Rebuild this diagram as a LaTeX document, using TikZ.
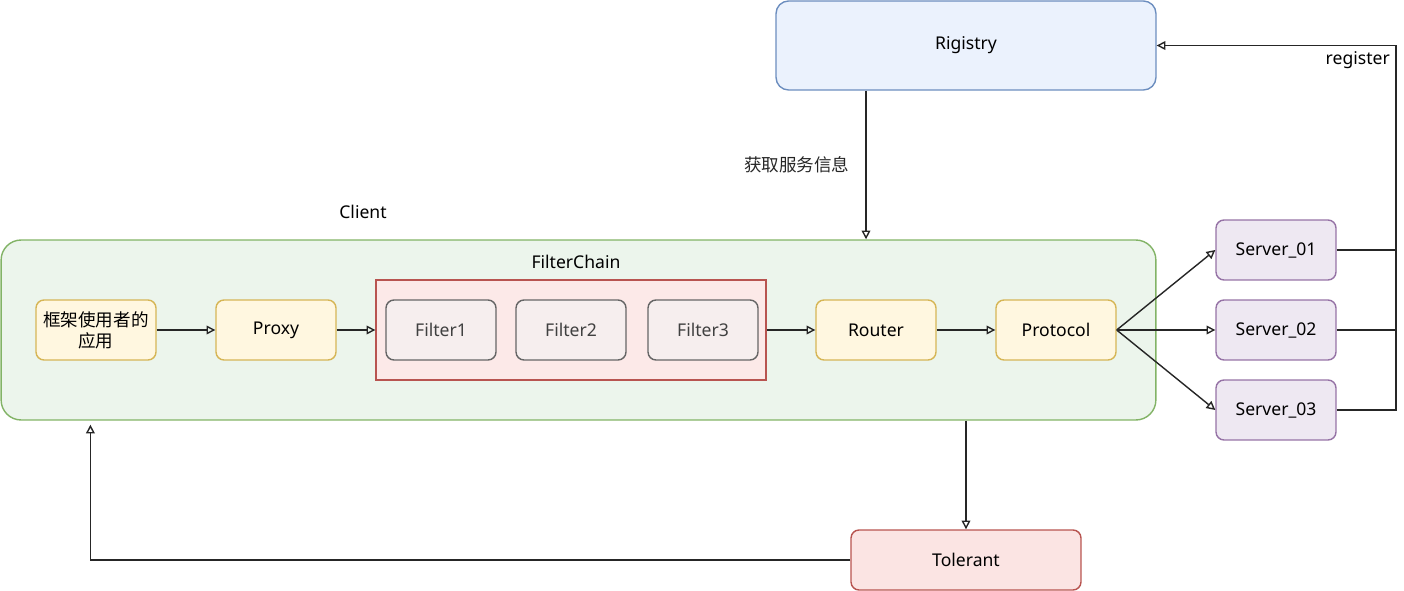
\documentclass[tikz,border=0pt]{standalone}
\usepackage{fontspec}
\setmainfont{Noto Sans}
\newfontfamily\cjk{Noto Sans CJK SC}
\usepackage{tikz}
\usetikzlibrary{arrows.meta}
\definecolor{ystroke}{HTML}{D6B656}
\definecolor{yfill}{HTML}{FFF2CC}
\definecolor{gstroke}{HTML}{82B366}
\definecolor{gfill}{HTML}{D5E8D4}
\definecolor{rstroke}{HTML}{B85450}
\definecolor{rfill}{HTML}{F8CECC}
\definecolor{pstroke}{HTML}{9673A6}
\definecolor{pfill}{HTML}{E1D5E7}
\definecolor{bstroke}{HTML}{6C8EBF}
\definecolor{bfill}{HTML}{DAE8FC}
\definecolor{kstroke}{HTML}{666666}

\begin{document}
\begin{tikzpicture}[x=0.02cm,y=-0.02cm,
    font=\fontsize{10}{12}\selectfont,
    box/.style={draw, thick, rounded corners=0.16cm, align=center,
        minimum width=2.4cm, minimum height=1.2cm, inner sep=1pt},
    ybox/.style={box, draw=ystroke, fill=yfill!60},
    pbox/.style={box, draw=pstroke, fill=pfill!55},
    fbox/.style={box, draw=kstroke, fill=gray!10, fill opacity=0.6, text opacity=1,
        minimum width=2.2cm, text=black!75},
    arr/.style={-{Triangle[open,length=5pt,width=5pt]}, thick, black!85}]
    \useasboundingbox (0,0) rectangle (1404,591);

    \node[draw=bstroke, thick, fill=bfill!55, rounded corners=0.25cm,
        minimum width=7.6cm, minimum height=1.78cm] (reg) at (966,45.5) {Rigistry};

    \node[draw=gstroke, thick, fill=gfill!45, rounded corners=0.4cm,
        minimum width=23.1cm, minimum height=3.6cm] (client) at (578.5,330) {};
    \node (clientlbl) at (363,212) {Client};
    \node (chainlbl) at (576,262) {FilterChain};

    \node[draw=rstroke, thick, fill=rfill!45, minimum width=7.8cm, minimum height=2cm]
        (chain) at (571,330) {};
    \node[fbox] (f1) at (441,330) {Filter1};
    \node[fbox] (f2) at (571,330) {Filter2};
    \node[fbox] (f3) at (703,330) {Filter3};

    \node[ybox] (app) at (96,330) {\cjk 框架使用者的\\\cjk 应用};
    \node[ybox] (proxy) at (276,330) {Proxy};
    \node[ybox] (router) at (876,330) {Router};
    \node[ybox] (proto) at (1056,330) {Protocol};

    \node[pbox] (s1) at (1276,250) {Server\_01};
    \node[pbox] (s2) at (1276,330) {Server\_02};
    \node[pbox] (s3) at (1276,410) {Server\_03};

    \node[draw=rstroke, thick, fill=rfill!55, rounded corners=0.16cm,
        minimum width=4.6cm, minimum height=1.2cm] (tol) at (966,560) {Tolerant};

    % main call path
    \draw[arr] (app) -- (proxy);
    \draw[arr] (proxy) -- (chain);
    \draw[arr] (chain) -- (router);
    \draw[arr] (router) -- (proto);
    \draw[arr] (proto.east) -- (s1.west);
    \draw[arr] (proto.east) -- (s2.west);
    \draw[arr] (proto.east) -- (s3.west);

    % registry lookup
    \draw[arr] ([xshift=-2cm]reg.south) -- ([xshift=-2cm]reg.south |- client.north)
        node[midway, left=0.2cm] {\cjk 获取服务信息};

    % fault tolerance
    \draw[arr] (client.south -| tol.north) -- (tol.north);
    \draw[arr] (tol.west) -| ([shift={(90,4)}]client.south west);

    % register
    \coordinate (bus) at (1396,45.5);
    \draw[arr] (s3.east) -| (bus) -- (reg.east);
    \draw[thick, black!85] (s2.east) -- (s2.east -| bus);
    \draw[thick, black!85] (s1.east) -- (s1.east -| bus);
    \node[below left] (reglbl) at (bus) {register};
\end{tikzpicture}
\end{document}
